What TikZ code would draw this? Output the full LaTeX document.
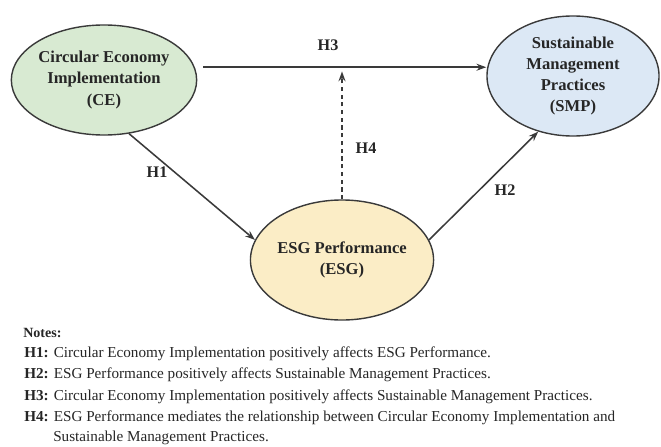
\documentclass[tikz,border=0pt]{standalone}
\usepackage{fontspec}
\setmainfont{Liberation Serif}
\usetikzlibrary{shapes.geometric,arrows.meta}
\definecolor{cegreen}{HTML}{D8EAD2}
\definecolor{smpblue}{HTML}{DCE8F5}
\definecolor{esgyellow}{HTML}{FBEDC6}
\definecolor{edgegray}{HTML}{3A3A3A}
\begin{document}
\begin{tikzpicture}[x=0.025cm,y=-0.025cm,
    construct/.style={ellipse,draw=edgegray,line width=1pt,align=center,
      text=black!85,font=\fontsize{11.8}{15}\selectfont\bfseries,inner sep=0pt},
    path/.style={draw=edgegray,line width=1.1pt,-{Stealth[length=7pt,width=5pt]}},
    hyp/.style={font=\fontsize{11.5}{14}\selectfont\bfseries,text=black!85},
    note/.style={anchor=west,font=\fontsize{10.8}{13}\selectfont,text=black!85,inner sep=0pt}]
  \useasboundingbox (0,0) rectangle (661,446);
  % constructs
  \node[construct,fill=cegreen,minimum width=4.5cm,minimum height=2.75cm] (CE) at (104,80)
    {Circular Economy\\Implementation\\(CE)};
  \node[construct,fill=smpblue,minimum width=4.3cm,minimum height=3cm] (SMP) at (573,76)
    {Sustainable\\Management\\Practices\\(SMP)};
  \node[construct,fill=esgyellow,minimum width=4.4cm,minimum height=3cm] (ESG) at (342,260)
    {ESG Performance\\(ESG)};
  % paths
  \begin{scope}
    \draw[path,shorten <=6pt] (CE.8) -- (CE.8 -| SMP.west);
    \draw[path,dashed,dash pattern=on 3pt off 2.5pt,shorten >=3pt] (ESG.north) -- (ESG.north |- CE.8);
    \draw[path] (CE.-65) -- (ESG.167);
    \draw[path] (ESG.13) -- (SMP.-122);
  \end{scope}
  \node[hyp] (h3) at (328,45) {H3};
  \node[hyp] (h4) at (366,148) {H4};
  \node[hyp] (h1) at (157,172) {H1};
  \node[hyp] (h2) at (505,190) {H2};
  % notes
  \node[note,font=\fontsize{10}{12}\selectfont\bfseries] (notes) at (23,333) {Notes:};
  \node[note] (n1) at (24,354) {\textbf{H1:} Circular Economy Implementation positively affects ESG Performance.};
  \node[note] (n2) at (24,375) {\textbf{H2:} ESG Performance positively affects Sustainable Management Practices.};
  \node[note] (n3) at (24,397) {\textbf{H3:} Circular Economy Implementation positively affects Sustainable Management Practices.};
  \node[note] (n4) at (24,418) {\textbf{H4:} ESG Performance mediates the relationship between Circular Economy Implementation and};
  \node[note] (n5) at (53,438) {Sustainable Management Practices.};
\end{tikzpicture}
\end{document}
